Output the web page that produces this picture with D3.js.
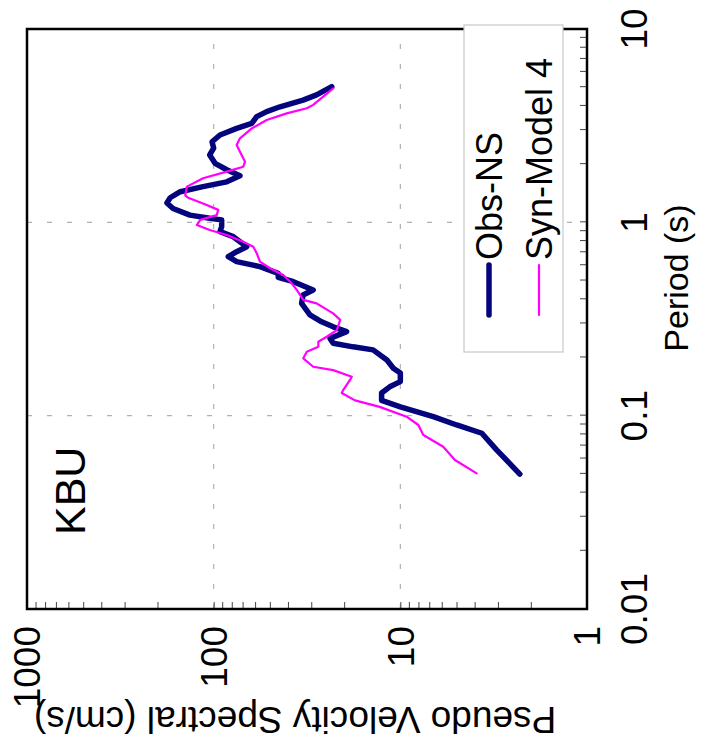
<!DOCTYPE html>
<html>
<head>
<meta charset="utf-8">
<script src="https://cdn.jsdelivr.net/npm/d3@7/dist/d3.min.js"></script>
<style>
  html, body { margin: 0; padding: 0; background: #fff; }
  svg { display: block; }
  text { font-family: "Liberation Sans", Arial, Helvetica, sans-serif; fill: #000; }
</style>
</head>
<body>
<svg id="chart" width="706" height="756"></svg>
<script>
// ---- data (period in s, pseudo velocity in cm/s) ----
const seriesNames = ["Obs-NS", "Syn-Model 4"];
const stationLabel = "KBU";
const xTitle = "Period (s)";
const yTitle = "Pseudo Velocity Spectral (cm/s)";
const xTickLabels = ["0.01", "0.1", "1", "10"];
const yTickLabels = ["1", "10", "100", "1000"];

const obsPeriod = [5.03, 4.56, 4.29, 3.96, 3.74, 3.52, 3.25, 3.06, 2.83, 2.61, 2.42, 2.23, 2.02, 1.87, 1.74, 1.62, 1.53, 1.44, 1.34, 1.26, 1.18, 1.09, 1.05, 1.03, 0.950, 0.895, 0.843, 0.748, 0.705, 0.664, 0.626, 0.590, 0.545, 0.520, 0.493, 0.447, 0.421, 0.381, 0.332, 0.306, 0.288, 0.272, 0.251, 0.237, 0.227, 0.219, 0.194, 0.176, 0.166, 0.150, 0.141, 0.131, 0.120, 0.111, 0.0988, 0.0895, 0.0811, 0.0665, 0.0499];
const obsPSV = [23.3, 28.1, 33.2, 44.1, 52.0, 58.8, 62.5, 75.3, 92.5, 102, 100, 105, 98.3, 85.1, 72.3, 85.1, 114, 151, 171, 178, 165, 134, 105, 90.6, 90.6, 92.5, 78.5, 66.5, 75.3, 83.5, 75.3, 56.5, 45.1, 45.1, 37.4, 29.3, 33.2, 33.8, 30.5, 26.4, 22.9, 19.4, 23.8, 22.9, 17.9, 14.0, 11.8, 10.9, 10.0, 10.0, 11.4, 12.6, 12.6, 10.0, 6.66, 4.99, 3.66, 3.05, 2.29];

const synPeriod = [4.93, 4.47, 4.05, 3.89, 3.66, 3.38, 3.06, 2.72, 2.51, 2.32, 2.06, 1.94, 1.83, 1.69, 1.53, 1.38, 1.34, 1.25, 1.16, 1.09, 1.03, 0.969, 0.913, 0.860, 0.794, 0.748, 0.692, 0.626, 0.579, 0.534, 0.484, 0.447, 0.397, 0.381, 0.338, 0.313, 0.277, 0.256, 0.241, 0.227, 0.214, 0.198, 0.179, 0.172, 0.159, 0.153, 0.136, 0.131, 0.120, 0.111, 0.0988, 0.0895, 0.0794, 0.0691, 0.0590, 0.0503];
const synPSV = [22.9, 25.9, 29.3, 31.7, 40.6, 52.0, 62.5, 72.3, 75.3, 72.3, 67.9, 69.4, 85.1, 114, 139, 142, 137, 114, 94.5, 96.3, 118, 123, 105, 85.1, 69.4, 61.3, 58.8, 56.5, 49.9, 42.4, 38.2, 35.9, 33.1, 28.1, 22.9, 21.0, 21.9, 24.8, 27.5, 27.5, 31.7, 33.1, 29.3, 22.9, 18.2, 18.6, 20.2, 20.6, 17.5, 12.9, 9.25, 8.01, 7.53, 5.89, 5.10, 3.90];

// ---- layout (chart is drawn unrotated, then rotated -90deg) ----
const W = 756, H = 706;            // unrotated drawing size
const plot = { left: 147, right: 727, top: 27, bottom: 587 };

const svg = d3.select("#chart");
const g = svg.append("g").attr("transform", `translate(0,${W}) rotate(-90)`);

const x = d3.scaleLog().domain([0.01, 10]).range([plot.left, plot.right]);
const y = d3.scaleLog().domain([1, 1000]).range([plot.bottom, plot.top]);

// grid (decades)
const gridStyle = sel => sel.attr("stroke", "#b0b0b0").attr("stroke-width", 1.2).attr("stroke-dasharray", "5,15");
g.append("g").selectAll("line").data([0.1, 1]).join("line")
  .attr("x1", d => x(d)).attr("x2", d => x(d))
  .attr("y1", plot.top).attr("y2", plot.bottom).call(gridStyle);
g.append("g").selectAll("line").data([10, 100]).join("line")
  .attr("y1", d => y(d)).attr("y2", d => y(d))
  .attr("x1", plot.left).attr("x2", plot.right).call(gridStyle);

// axes ticks (inside)
const minorX = [];
for (let e = -2; e < 1; e++) for (let m = 1; m < 10; m++) minorX.push(m * Math.pow(10, e));
minorX.push(10);
const minorY = [];
for (let e = 0; e < 3; e++) for (let m = 1; m < 10; m++) minorY.push(m * Math.pow(10, e));
minorY.push(1000);

const xAxis = g.append("g").attr("transform", `translate(0,${plot.bottom})`)
  .call(d3.axisBottom(x).tickValues(minorX).tickSize(-7).tickFormat(""));
const yAxis = g.append("g").attr("transform", `translate(${plot.left},0)`)
  .call(d3.axisLeft(y).tickValues(minorY).tickSize(-7).tickFormat(""));
[xAxis, yAxis].forEach(a => {
  a.select(".domain").remove();
  a.selectAll(".tick line").attr("stroke", "#444").attr("stroke-width", 1);
});

// tick labels
g.append("g").selectAll("text").data(xTickLabels).join("text")
  .attr("x", d => x(+d)).attr("y", 647)
  .attr("text-anchor", "middle").attr("font-size", 37).text(d => d);
g.append("g").selectAll("text").data(yTickLabels).join("text")
  .attr("x", plot.left - 17).attr("y", d => y(+d))
  .attr("dy", "0.36em")
  .attr("text-anchor", "end").attr("font-size", 37).text(d => d);

// titles
g.append("text").attr("x", 478).attr("y", 688)
  .attr("text-anchor", "middle").attr("font-size", 34).text(xTitle);
g.append("text").attr("transform", `translate(49,295) rotate(-90)`)
  .attr("text-anchor", "middle").attr("font-size", 37).text(yTitle);

// lines
const line = d3.line().x(d => x(d[0])).y(d => y(d[1])).curve(d3.curveLinear);
const obs = obsPeriod.map((p, i) => [p, obsPSV[i]]);
const syn = synPeriod.map((p, i) => [p, synPSV[i]]);
g.append("path").datum(obs).attr("d", line)
  .attr("fill", "none").attr("stroke", "#04047c").attr("stroke-width", 5.5)
  .attr("stroke-linejoin", "round").attr("stroke-linecap", "round");
g.append("path").datum(syn).attr("d", line)
  .attr("fill", "none").attr("stroke", "#ff00ff").attr("stroke-width", 2.2)
  .attr("stroke-linejoin", "round").attr("stroke-linecap", "round");

// frame
g.append("rect").attr("x", plot.left).attr("y", plot.top)
  .attr("width", plot.right - plot.left).attr("height", plot.bottom - plot.top)
  .attr("fill", "none").attr("stroke", "#000").attr("stroke-width", 2.5);

// station label
g.append("text").attr("x", 221).attr("y", 85).attr("font-size", 43).text(stationLabel);

// legend
const lg = g.append("g");
lg.append("rect").attr("x", 404).attr("y", 464).attr("width", 327).attr("height", 99)
  .attr("fill", "#fff").attr("stroke", "#c8c8c8").attr("stroke-width", 1.2);
const legendStyles = [
  { color: "#04047c", width: 5.5 },
  { color: "#ff00ff", width: 2.2 }
];
seriesNames.forEach((name, i) => {
  const cy = 489 + i * 50;
  lg.append("line").attr("x1", 441).attr("x2", 491).attr("y1", cy).attr("y2", cy)
    .attr("stroke", legendStyles[i].color).attr("stroke-width", legendStyles[i].width)
    .attr("stroke-linecap", "round");
  lg.append("text").attr("x", 496).attr("y", cy + 13).attr("font-size", 36).text(name);
});
</script>
</body>
</html>
